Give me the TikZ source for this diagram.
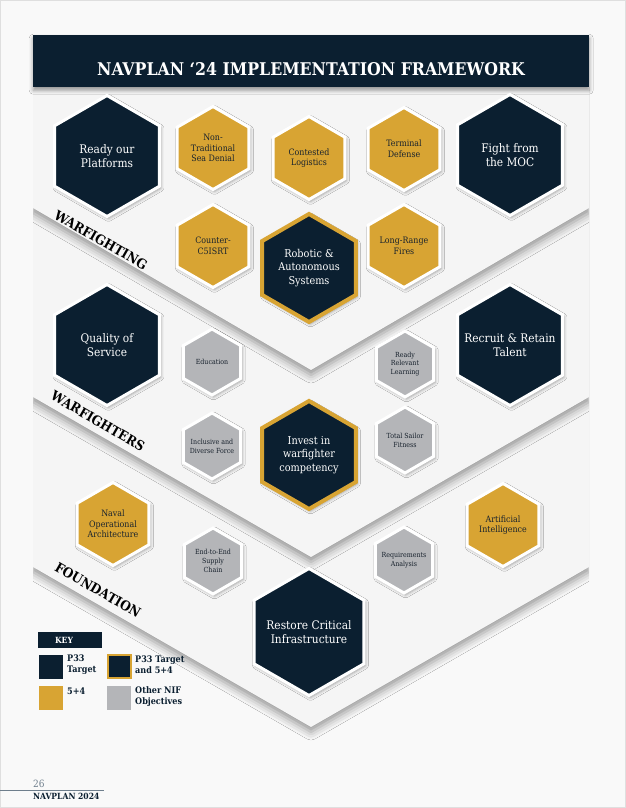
\documentclass[tikz,border=0pt]{standalone}
\usepackage{fontspec}
\setmainfont{DejaVu Serif Condensed}
\usetikzlibrary{shapes.geometric,shadows.blur}
\definecolor{navy}{HTML}{0B1F30}
\definecolor{gold}{HTML}{D8A433}
\definecolor{hexgray}{HTML}{B4B5B8}
\definecolor{pagebg}{HTML}{F9F9F9}
\definecolor{panel}{HTML}{F5F5F5}
\definecolor{darktext}{HTML}{18222D}
\definecolor{footgray}{HTML}{6E7E8C}
\tikzset{
  chev/.style={fill=panel, blur shadow={shadow xshift=0pt, shadow yshift=-5pt, shadow blur radius=8pt, shadow opacity=40}},
  hexbase/.style={regular polygon, regular polygon sides=6, shape border rotate=90, inner sep=0pt, outer sep=0pt,
    blur shadow={shadow xshift=1.5pt, shadow yshift=-2pt, shadow blur radius=3pt, shadow opacity=35}},
  bighex/.style={hexbase, minimum size=121pt, fill=navy, draw=white, line width=3pt},
  restorehex/.style={hexbase, minimum size=127pt, fill=navy, draw=white, line width=3pt},
  ringhex/.style={hexbase, minimum size=108pt, fill=navy, draw=gold, line width=4pt},
  goldhex/.style={hexbase, minimum size=83pt, fill=gold, draw=white, line width=3pt},
  grayhex/.style={hexbase, minimum size=66pt, fill=hexgray, draw=white, line width=3pt},
  bigtxt/.style={font=\fontsize{11.8}{14}\selectfont, text=white, align=center, inner sep=0pt},
  ringtxt/.style={font=\fontsize{10.8}{13.5}\selectfont, text=white, align=center, inner sep=0pt},
  goldtxt/.style={font=\fontsize{8.8}{10.6}\selectfont, text=darktext, align=center, inner sep=0pt},
  graytxt/.style={font=\fontsize{7}{8.8}\selectfont, text=darktext, align=center, inner sep=0pt},
  bandlabel/.style={font=\fontsize{13.5}{16}\bfseries\selectfont, text=black, rotate=-30, inner sep=0pt},
  keybox/.style={minimum size=24pt, inner sep=0pt, outer sep=0pt},
  keytxt/.style={font=\fontsize{9}{11}\bfseries\selectfont, text=navy, align=left, inner sep=0pt, anchor=west}
}
\begin{document}
\begin{tikzpicture}[x=1pt,y=-1pt]
\useasboundingbox (0,0) rectangle (626,808);
\fill[pagebg] (0,0) rectangle (626,808);
\draw[gray!25, line width=1pt] (0.5,0.5) rectangle (625.5,807.5);
% chevron bands
\begin{scope}
\clip (33,87) rectangle (589,806);
\path[chev] (33,60) -- (589,60) -- (589,567) -- (311,727) -- (33,567) -- cycle;
\path[chev] (33,60) -- (589,60) -- (589,397) -- (311,557) -- (33,397) -- cycle;
\path[chev] (33,60) -- (589,60) -- (589,208) -- (311,370) -- (33,208) -- cycle;
\end{scope}
% header
\node[fill=navy, minimum width=556pt, minimum height=52pt, inner sep=0pt, anchor=north west,
  blur shadow={shadow xshift=0pt, shadow yshift=-3pt, shadow blur radius=4pt, shadow opacity=40}] (header) at (33,35) {};
\node[font=\fontsize{17.5}{20}\bfseries\selectfont, text=white] (title) at (311,69) {NAVPLAN ‘24 IMPLEMENTATION FRAMEWORK};
% band labels
\node[bandlabel] (lwf) at (101,240) {WARFIGHTING};
\node[bandlabel] (lwfr) at (98,421) {WARFIGHTERS};
\node[bandlabel] (lfnd) at (98,590) {FOUNDATION};
% warfighting
\node[bighex, label={[bigtxt]center:{Ready our\\Platforms}}] (ready) at (107,156) {};
\node[goldhex, label={[goldtxt]center:{Non-\\Traditional\\Sea Denial}}] (ntsd) at (213,148) {};
\node[goldhex, label={[goldtxt]center:{Contested\\Logistics}}] (clog) at (309,158) {};
\node[goldhex, label={[goldtxt]center:{Terminal\\Defense}}] (tdef) at (404,149) {};
\node[bighex, label={[bigtxt]center:{Fight from\\the MOC}}] (moc) at (510,155) {};
\node[goldhex, label={[goldtxt]center:{Counter-\\C5ISRT}}] (c5) at (213,246) {};
\node[ringhex, label={[ringtxt]center:{Robotic \&\\Autonomous\\Systems}}] (ras) at (309,268) {};
\node[goldhex, label={[goldtxt]center:{Long-Range\\Fires}}] (lrf) at (404,246) {};
% warfighters
\node[bighex, label={[bigtxt]center:{Quality of\\Service}}] (qos) at (107,345) {};
\node[grayhex, label={[graytxt]center:{Education}}] (edu) at (212,362) {};
\node[grayhex, label={[graytxt]center:{Ready\\Relevant\\Learning}}] (rrl) at (405,364) {};
\node[bighex, label={[bigtxt]center:{Recruit \& Retain\\Talent}}] (rrt) at (510,345) {};
\node[grayhex, label={[graytxt]center:{Inclusive and\\Diverse Force}}] (idf) at (212,446) {};
\node[ringhex, label={[ringtxt]center:{Invest in\\warfighter\\competency}}] (iwc) at (309,455) {};
\node[grayhex, label={[graytxt]center:{Total Sailor\\Fitness}}] (tsf) at (405,440) {};
% foundation
\node[goldhex, label={[goldtxt]center:{Naval\\Operational\\Architecture}}] (noa) at (113,524) {};
\node[grayhex, label={[graytxt]center:{End-to-End\\Supply\\Chain}}] (e2e) at (213,561) {};
\node[grayhex, label={[graytxt]center:{Requirements\\Analysis}}] (req) at (404,560) {};
\node[goldhex, label={[goldtxt]center:{Artificial\\Intelligence}}] (ai) at (503,525) {};
\node[restorehex, label={[bigtxt]center:{Restore Critical\\Infrastructure}}] (rci) at (309,632) {};
% key
\node[fill=navy, minimum width=64pt, minimum height=16pt, inner sep=0pt, anchor=north west] (keyhead) at (38,632) {};
\node[font=\fontsize{8.5}{10}\bfseries\selectfont, text=white] (keyword) at (64,640.5) {KEY};
\node[keybox, fill=navy] (k1) at (51,666.5) {};
\node[keytxt] (k1t) at (67,665) {P33\\Target};
\node[keybox, fill=navy, draw=gold, line width=2pt, minimum size=23pt] (k2) at (119,666.5) {};
\node[keytxt] (k2t) at (135,665) {P33 Target\\and 5+4};
\node[keybox, fill=gold] (k3) at (51,698) {};
\node[keytxt] (k3t) at (67,691) {5+4};
\node[keybox, fill=hexgray] (k4) at (119,698) {};
\node[keytxt] (k4t) at (135,696.5) {Other NIF\\Objectives};
% footer
\node[font=\fontsize{10}{12}\selectfont, text=footgray, anchor=base west, inner sep=0pt] (pnum) at (33,787) {26};
\coordinate (fl0) at (0,790);
\coordinate (fl1) at (104,790);
\draw[footgray, line width=1pt] (fl0) -- (fl1);
\node[font=\fontsize{8.5}{10}\bfseries\selectfont, text=navy, anchor=base west, inner sep=0pt] (foot) at (33,799) {NAVPLAN 2024};
\end{tikzpicture}
\end{document}
